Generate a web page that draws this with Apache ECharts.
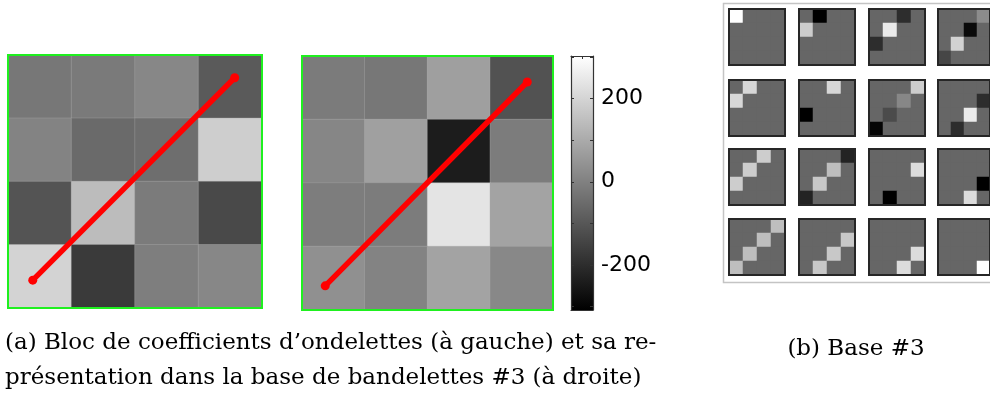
<!DOCTYPE html>
<html><head><meta charset="utf-8">
<script src="https://cdn.jsdelivr.net/npm/echarts@6/dist/echarts.min.js"></script>
<style>html,body{margin:0;padding:0;background:#fff}#c{width:990px;height:403px}</style>
</head><body><div id="c"></div>
<script>
// ---- data ----
const cells = ['0', '1', '2', '3'];
// wavelet coefficient block (rows from top), values on colorbar scale
const leftBlock = [
  [-23, -16, 15, -93],
  [5, -54, -45, 185],
  [-107, 142, -14, -133],
  [197, -169, -7, 15]
];
// representation in bandlet basis #3
const rightBlock = [
  [-14, -23, 72, -112],
  [13, 75, -241, -11],
  [-9, -11, 237, 82],
  [36, 5, 82, 17]
];
// geometric flow segment drawn over each block (in cell units)
const leftPath = [[0.39, 0.44], [3.57, 3.64]];
const rightPath = [[0.37, 0.38], [3.59, 3.59]];
const cbMin = -308, cbMax = 302;
const cbTicks = [-300, -200, -100, 0, 100, 200, 300];
const cbLabels = [-200, 0, 200];
// basis #3 atoms: background intensity and non-zero cells [row, col, intensity]
const atomBackground = 102;
const atoms = [
  [[0, 0, 255]],
  [[0, 1, 0], [1, 0, 204]],
  [[0, 2, 45], [1, 1, 235], [2, 0, 45]],
  [[0, 3, 140], [1, 2, 10], [2, 1, 210], [3, 0, 70]],
  [[0, 1, 215], [1, 0, 215]],
  [[0, 2, 215], [2, 0, 0]],
  [[0, 3, 205], [1, 2, 135], [2, 1, 75], [3, 0, 5]],
  [[1, 3, 45], [2, 2, 235], [3, 1, 45]],
  [[0, 2, 205], [1, 1, 205], [2, 0, 205]],
  [[0, 3, 35], [1, 2, 190], [2, 1, 200], [3, 0, 35]],
  [[1, 3, 220], [3, 1, 0]],
  [[2, 3, 0], [3, 2, 220]],
  [[0, 3, 190], [1, 2, 190], [2, 1, 190], [3, 0, 190]],
  [[1, 3, 200], [2, 2, 200], [3, 1, 200]],
  [[2, 3, 220], [3, 2, 220]],
  [[3, 3, 255]]
];
const captionA1 = '(a) Bloc de coefficients d\u2019ondelettes (\u00e0 gauche) et sa re-';
const captionA2 = 'pr\u00e9sentation dans la base de bandelettes #3 (\u00e0 droite)';
const captionB = '(b) Base #3';

// ---- build ----
const chart = echarts.init(document.getElementById('c'), null, {renderer: 'canvas'});
const grids = [], xAxes = [], yAxes = [], series = [];
function blockToData(b) {
  const d = [];
  b.forEach((row, r) => row.forEach((v, c) => d.push([c, r, v])));
  return d;
}
const mainBoxes = [
  {left: 8, top: 55, width: 254, height: 253, block: leftBlock, path: leftPath},
  {left: 302, top: 56, width: 251, height: 254, block: rightBlock, path: rightPath}
];
const mainSeriesIdx = [];
mainBoxes.forEach((b, i) => {
  const gi = grids.length;
  grids.push({left: b.left, top: b.top, width: b.width, height: b.height, show: true, z: 4,
    backgroundColor: 'transparent', borderColor: '#1ff01f', borderWidth: 2});
  const xc = xAxes.length;
  xAxes.push({type: 'category', gridIndex: gi, data: cells, show: false});
  const yc = yAxes.length;
  yAxes.push({type: 'category', gridIndex: gi, data: cells, inverse: true, show: false});
  const xv = xAxes.length;
  xAxes.push({type: 'value', gridIndex: gi, min: 0, max: 4, show: false});
  const yv = yAxes.length;
  yAxes.push({type: 'value', gridIndex: gi, min: 0, max: 4, show: false});
  mainSeriesIdx.push(series.length);
  series.push({type: 'heatmap', xAxisIndex: xc, yAxisIndex: yc, data: blockToData(b.block), z: 1,
    itemStyle: {borderColor: 'rgba(170,170,170,0.45)', borderWidth: 0.8}, emphasis: {disabled: true}, silent: true});
  series.push({type: 'line', xAxisIndex: xv, yAxisIndex: yv, data: b.path, z: 5,
    lineStyle: {color: '#ff0000', width: 5.5, cap: 'round'}, itemStyle: {color: '#ff0000'},
    symbol: 'circle', symbolSize: 9, showSymbol: true, silent: true, animation: false});
});
// colorbar grid: gradient via markArea, frame & ticks via axes
const cbGrid = grids.length;
grids.push({left: 571, top: 56, width: 22, height: 254, show: false});
const cbLine = {show: true, onZero: false, lineStyle: {color: '#333', width: 1.2}};
const cbX = xAxes.length;
xAxes.push({type: 'value', gridIndex: cbGrid, position: 'bottom', min: 0, max: 1, z: 10,
  axisLine: cbLine, axisTick: {show: false}, axisLabel: {show: false}, splitLine: {show: false}});
xAxes.push({type: 'value', gridIndex: cbGrid, position: 'top', min: 0, max: 1, z: 10,
  axisLine: cbLine,
  axisTick: {show: true, inside: true, length: 3, customValues: [0.5], lineStyle: {color: '#333'}},
  axisLabel: {show: false}, splitLine: {show: false}});
const cbY = yAxes.length;
yAxes.push({type: 'value', gridIndex: cbGrid, position: 'left', min: cbMin, max: cbMax, z: 10,
  axisLine: cbLine,
  axisTick: {show: true, inside: true, length: 3, customValues: cbTicks, lineStyle: {color: '#333'}},
  axisLabel: {show: false}, splitLine: {show: false}});
yAxes.push({type: 'value', gridIndex: cbGrid, position: 'right', min: cbMin, max: cbMax, z: 10,
  axisLine: cbLine,
  axisTick: {show: true, inside: true, length: 3, customValues: cbTicks, lineStyle: {color: '#333'}},
  axisLabel: {show: true, customValues: cbLabels, margin: 8, color: '#000', fontFamily: 'DejaVu Sans', fontSize: 22},
  splitLine: {show: false}});
series.push({type: 'line', xAxisIndex: cbX, yAxisIndex: cbY, data: [], silent: true, z: -1,
  markArea: {silent: true, itemStyle: {borderWidth: 0, opacity: 1, color: {type: 'linear', x: 0, y: 0, x2: 0, y2: 1,
    colorStops: [{offset: 0, color: '#ffffff'}, {offset: 1, color: '#000000'}]}},
    data: [[{xAxis: 0, yAxis: cbMax}, {xAxis: 1, yAxis: cbMin}]]}});
// atom tiles
const tileCols = [729, 799, 869, 938];
const tileRows = [9, 80, 149, 219];
const atomSeriesIdx = [];
atoms.forEach((atom, k) => {
  const gi = grids.length;
  grids.push({left: tileCols[k % 4], top: tileRows[Math.floor(k / 4)], width: 56, height: 56, show: true, z: 3,
    borderColor: '#262626', borderWidth: 2, backgroundColor: 'transparent'});
  const xa = xAxes.length;
  xAxes.push({type: 'category', gridIndex: gi, data: cells, show: false});
  const ya = yAxes.length;
  yAxes.push({type: 'category', gridIndex: gi, data: cells, inverse: true, show: false});
  const d = [];
  cells.forEach((_, r) => cells.forEach((__, c) => {
    const hit = atom.find(a => a[0] === r && a[1] === c);
    d.push([c, r, hit ? hit[2] : atomBackground]);
  }));
  atomSeriesIdx.push(series.length);
  series.push({type: 'heatmap', xAxisIndex: xa, yAxisIndex: ya, data: d, z: 1, emphasis: {disabled: true}, silent: true});
});

const option = {
  animation: false,
  grid: grids, xAxis: xAxes, yAxis: yAxes, series: series,
  visualMap: [
    {type: 'continuous', show: false, seriesIndex: mainSeriesIdx, min: cbMin, max: cbMax,
     inRange: {color: ['#000000', '#ffffff']}},
    {type: 'continuous', show: false, seriesIndex: atomSeriesIdx, min: 0, max: 255,
     inRange: {color: ['#000000', '#ffffff']}}
  ],
  graphic: [
    {type: 'rect', shape: {x: 723.5, y: 3.5, width: 300, height: 279}, style: {fill: 'none', stroke: '#c4c4c4', lineWidth: 1.5}, z: -1, silent: true},
    {type: 'text', x: 5, y: 343, style: {text: captionA1, font: '23px "DejaVu Serif"', fill: '#000', verticalAlign: 'middle'}},
    {type: 'text', x: 5, y: 378, style: {text: captionA2, font: '23px "DejaVu Serif"', fill: '#000', verticalAlign: 'middle'}},
    {type: 'text', x: 856, y: 349, style: {text: captionB, font: '23px "DejaVu Serif"', fill: '#000', verticalAlign: 'middle', align: 'center'}}
  ]
};
chart.setOption(option);
</script></body></html>
